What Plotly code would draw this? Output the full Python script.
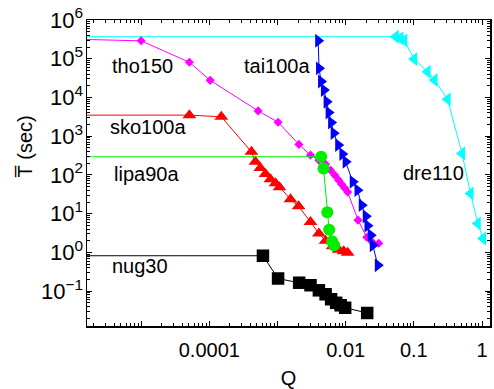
import math
import plotly.graph_objects as go

# ---- data ----
tho150_q = [1e-6, 1.0e-5, 5.1e-5, 1.03e-4, 5.2e-4, 1.02e-3, 2.06e-3, 3.05e-3, 4.05e-3, 5.08e-3,
            6.0e-3, 6.9e-3, 7.9e-3, 8.7e-3, 9.7e-3, 1.07e-2, 1.52e-2, 2.04e-2, 2.47e-2, 3.06e-2]
tho150_t = [3.2e5, 2.9e5, 8.1e4, 2.77e4, 4.5e3, 2.3e3, 614, 325, 241, 190,
            133, 98.9, 73.4, 57.8, 45.6, 36, 6.8, 2.47, 1.84, 1.73]

sko100a_q = [1e-6, 5.1e-5, 1.5e-4, 4.15e-4, 4.75e-4, 5.6e-4, 6.67e-4, 7.89e-4, 9.35e-4, 1.07e-3,
             1.55e-3, 2.04e-3, 3.05e-3, 4.05e-3, 5.08e-3, 6.44e-3, 7.89e-3, 9.35e-3, 1.07e-2]
sko100a_t = [3.5e3, 3.5e3, 3.17e3, 395, 218, 150, 105, 77.9, 61.4, 48.4,
             23.7, 15.6, 6.1, 3.08, 2.0, 1.44, 1.17, 1.07, 0.98]

lipa90a_q = [1e-6, 4.37e-3, 4.74e-3, 5.38e-3, 5.72e-3, 6.33e-3, 6.77e-3]
lipa90a_t = [295, 295, 147, 10.9, 3.86, 1.95, 1.53]

nug30_q = [1e-6, 6.12e-4, 1.02e-3, 2.08e-3, 3.05e-3, 4.05e-3, 5.08e-3, 6.12e-3, 7.25e-3,
           8.44e-3, 9.83e-3, 2.07e-2]
nug30_t = [0.82, 0.82, 0.212, 0.165, 0.142, 0.105, 0.083, 0.0618, 0.050,
           0.0432, 0.0372, 0.0273]

tai100a_q = [3.95e-3, 4.07e-3, 4.36e-3, 4.80e-3, 5.26e-3, 5.62e-3, 6.12e-3, 6.67e-3, 7.77e-3,
             8.94e-3, 1.0e-2, 1.27e-2, 1.49e-2, 1.72e-2, 1.97e-2, 2.09e-2, 2.33e-2, 2.5e-2, 2.96e-2]
tai100a_t = [2.92e5, 5.65e4, 2.58e4, 1.55e4, 7.74e3, 4.07e3, 2.25e3, 1.2e3, 589,
             345, 218, 66.4, 40.5, 16.6, 8.6, 4.9, 2.78, 1.53, 0.467]

dre110_q = [1e-6, 0.0543, 0.0633, 0.0724, 0.101, 0.159, 0.201, 0.313, 0.508, 0.678, 0.865, 1.035]
dre110_t = [3.7e5, 3.7e5, 3.37e5, 2.99e5, 9.8e4, 4.61e4, 2.82e4, 8.93e3, 360, 33.3, 5.58, 2.29]

x_tickvals = [1e-5, 1e-4, 1e-3, 1e-2, 1e-1, 1]
x_ticktext = [" ", "0.0001", " ", "0.01", "0.1", "1"]
y_exponents = [-1, 0, 1, 2, 3, 4, 5, 6]

labels = [("tho150", 1.036e-5, 6.6e4), ("sko100a", 1.25e-5, 1.7e3), ("lipa90a", 1.19e-5, 105),
          ("nug30", 9.5e-6, 0.45), ("tai100a", 1.0e-3, 6.6e4), ("dre110", 0.197, 110)]

# ---- figure ----
FONT = "Liberation Sans, Arial, Helvetica, sans-serif"
fig = go.Figure()

series = [
    (dre110_q, dre110_t, "#00ffff", "triangle-left", 12),
    (tho150_q, tho150_t, "#ff00ff", "diamond", 7),
    (sko100a_q, sko100a_t, "#ff0000", "triangle-up", 12),
    (lipa90a_q, lipa90a_t, "#00ee00", "circle", 12),
    (nug30_q, nug30_t, "#000000", "square", 12.5),
    (tai100a_q, tai100a_t, "#0000ff", "triangle-right", 12),
]
for q, t, col, sym, sz in series:
    fig.add_trace(go.Scatter(x=q, y=t, mode="lines+markers",
                             line=dict(color=col, width=1),
                             marker=dict(symbol=sym, size=sz, color=col, line=dict(width=0)),
                             showlegend=False, cliponaxis=True))

for txt, xv, yv in labels:
    fig.add_annotation(x=math.log10(xv), y=math.log10(yv), xref="x", yref="y", text=txt,
                       showarrow=False, xanchor="center", yanchor="middle",
                       font=dict(family=FONT, size=20, color="black"))

fig.add_annotation(x=-0.155, y=0.585, xref="paper", yref="paper", text="T\u0305 (sec)",
                   textangle=-90, showarrow=False, xanchor="center", yanchor="middle",
                   font=dict(family=FONT, size=20, color="black"))

minor_x = [m * 10.0 ** e for e in range(-6, 1) for m in range(2, 10)]
minor_y = [m * 10.0 ** e for e in range(-2, 6) for m in range(2, 10)]

fig.update_xaxes(type="log", range=[-5.794, 0.117], tickmode="array",
                 tickvals=x_tickvals, ticktext=x_ticktext,
                 ticks="inside", ticklen=5, tickwidth=1, tickcolor="black",
                 minor=dict(ticks="inside", ticklen=3, tickwidth=1, tickcolor="black",
                            tickmode="array", tickvals=minor_x, showgrid=False),
                 showline=True, linecolor="black", linewidth=1.5, mirror="ticks",
                 showgrid=False, zeroline=False, ticklabelstandoff=5, ticklabeloverflow="allow",
                 tickfont=dict(family=FONT, size=20, color="black"),
                 title=dict(text="Q", font=dict(family=FONT, size=20, color="black"), standoff=11))
fig.update_yaxes(type="log", range=[-1.9, 6.0], tickmode="array",
                 tickvals=[10.0 ** e for e in y_exponents],
                 ticktext=["10<sup>%s</sup>" % (str(e).replace("-", "\u2212")) for e in y_exponents],
                 ticks="inside", ticklen=5, tickwidth=1, tickcolor="black",
                 minor=dict(ticks="inside", ticklen=3, tickwidth=1, tickcolor="black",
                            tickmode="array", tickvals=minor_y, showgrid=False),
                 showline=True, linecolor="black", linewidth=1.5, mirror="ticks",
                 showgrid=False, zeroline=False, ticklabelstandoff=-2, ticklabeloverflow="allow",
                 tickfont=dict(family=FONT, size=22, color="black"))

fig.update_layout(width=494, height=389, margin=dict(l=87, r=4, t=20, b=63, autoexpand=False),
                  paper_bgcolor="white", plot_bgcolor="white",
                  font=dict(family=FONT, color="black"))

# remove the default page margin so the 494x389 figure fills the window exactly
fig.write_html("out.html", config={"displayModeBar": False, "staticPlot": True},
               post_script="document.body.style.margin='0';document.body.style.overflow='hidden';")
